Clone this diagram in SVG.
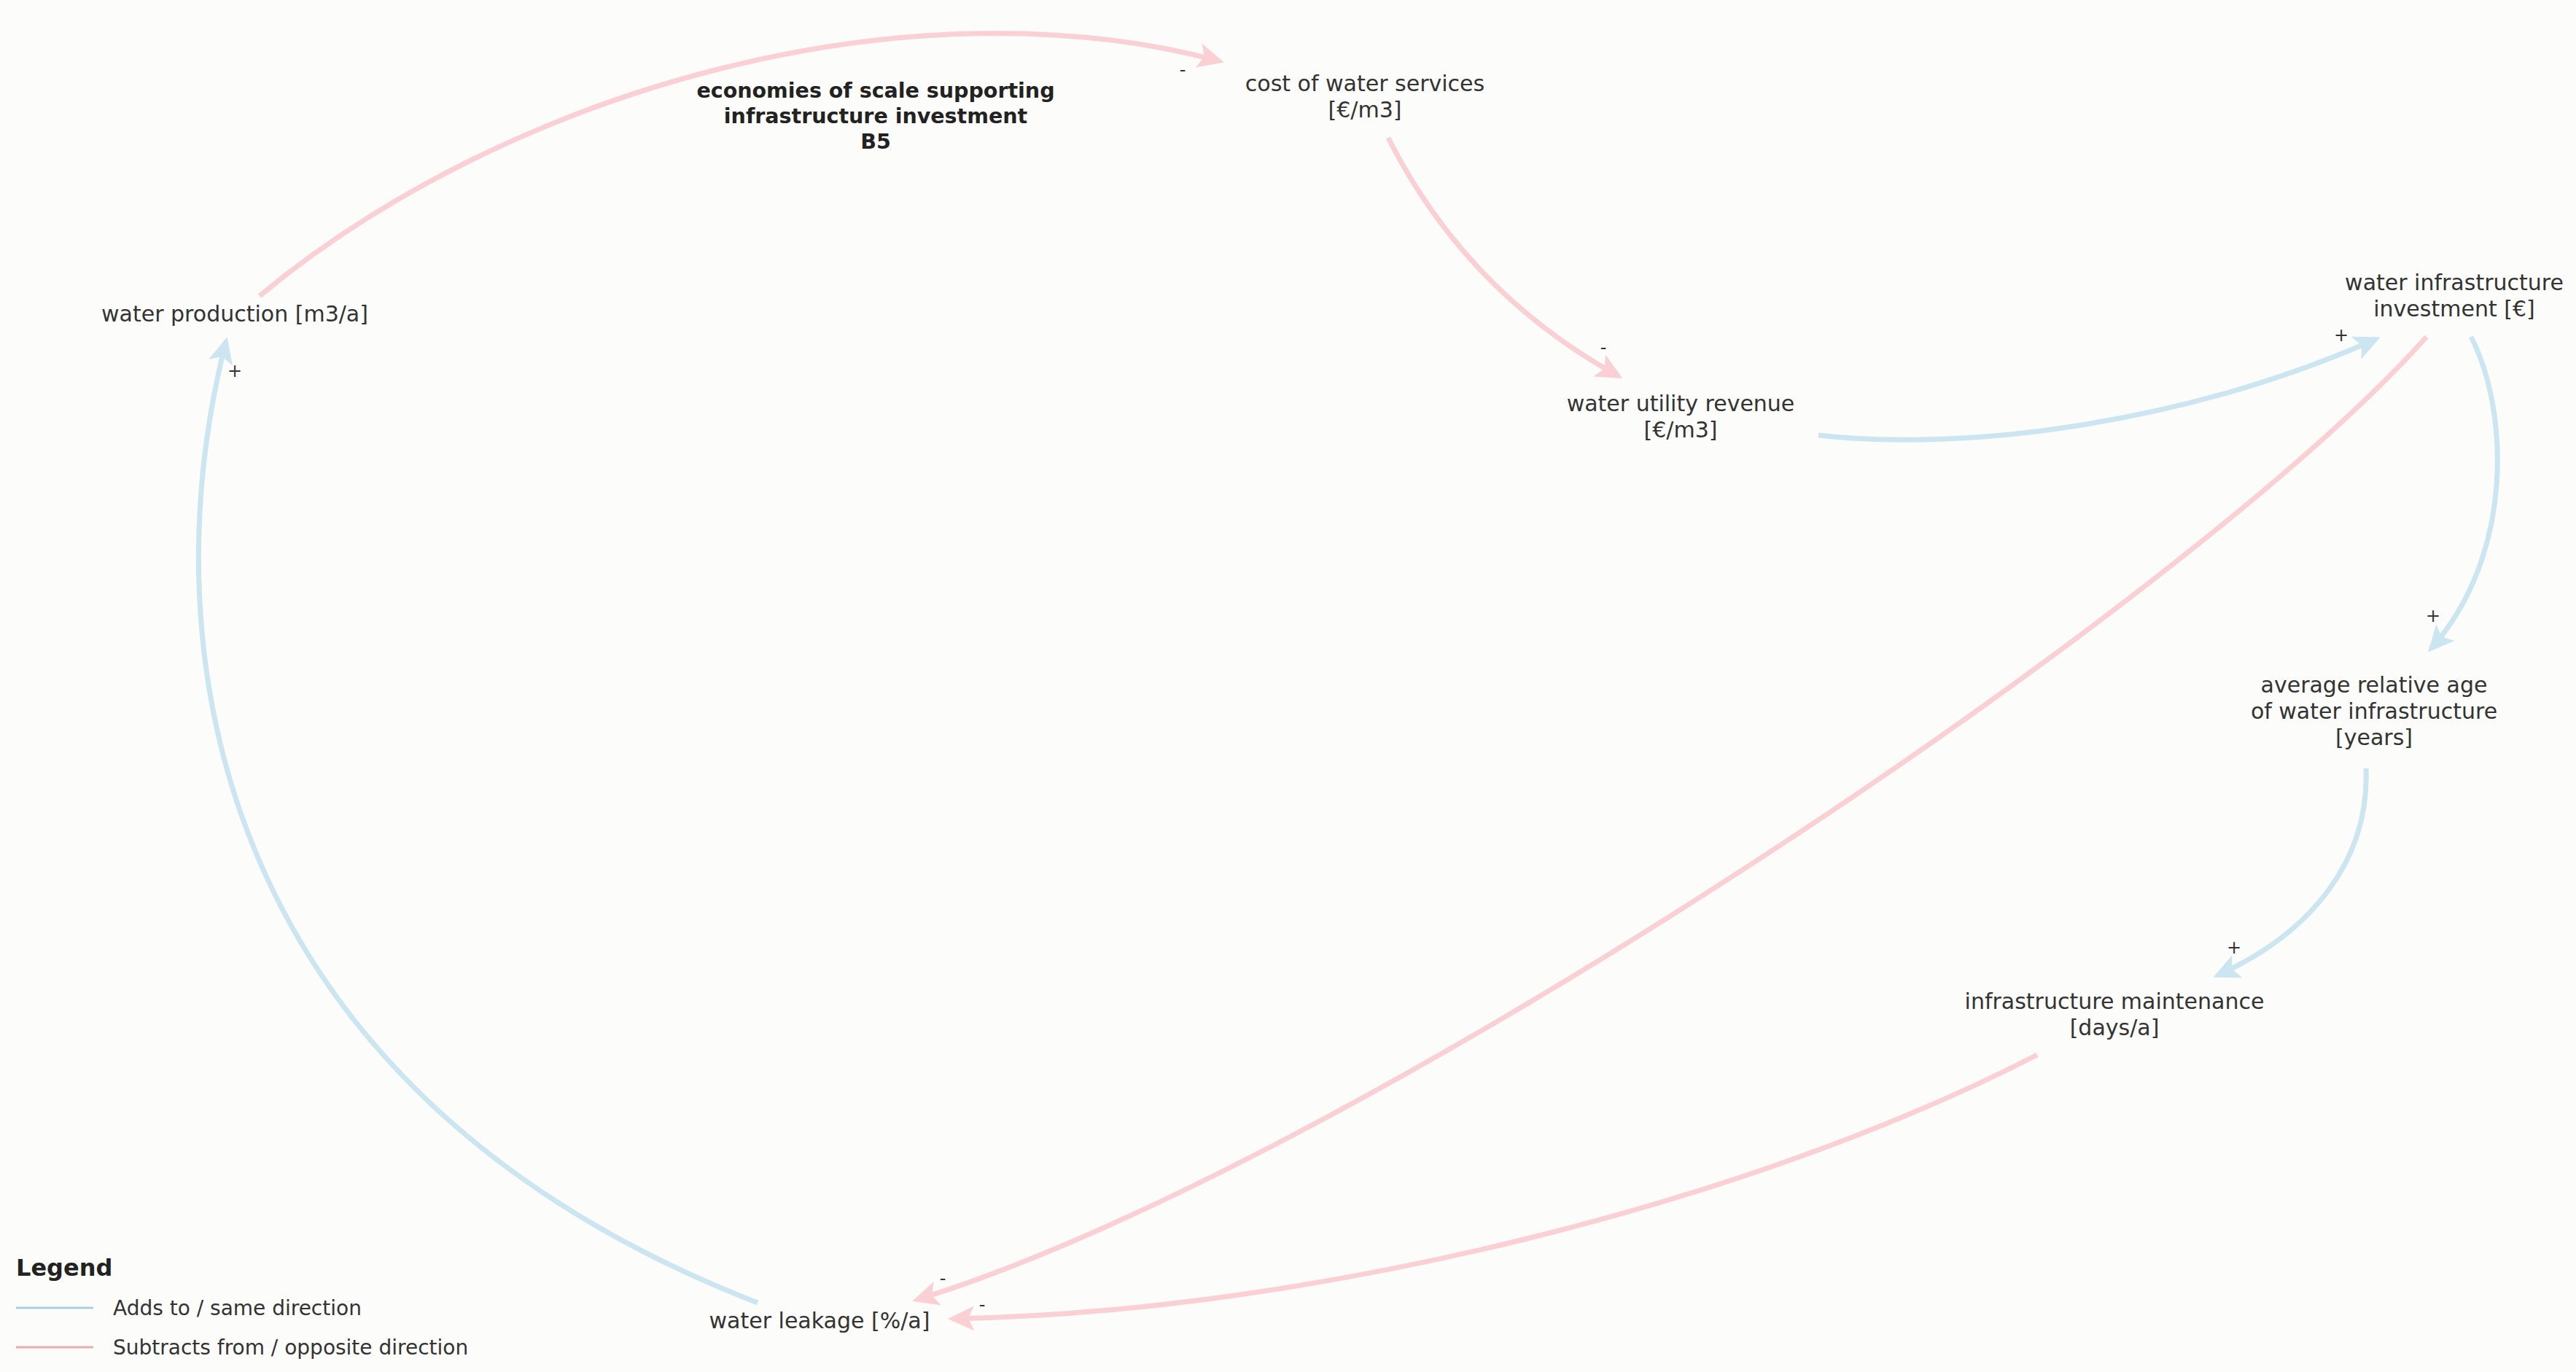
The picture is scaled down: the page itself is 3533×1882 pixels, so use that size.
<svg xmlns="http://www.w3.org/2000/svg" width="3533" height="1882" viewBox="0 0 3533 1882">
<style>
.t{font-family:"DejaVu Sans","Liberation Sans",sans-serif;font-size:30px;fill:#333;text-anchor:middle}
.b{font-family:"DejaVu Sans","Liberation Sans",sans-serif;font-size:28.5px;font-weight:bold;fill:#222;text-anchor:middle}
.s{font-family:"DejaVu Sans","Liberation Sans",sans-serif;font-size:24px;fill:#333;text-anchor:middle}
.lg{font-family:"DejaVu Sans","Liberation Sans",sans-serif;font-size:28px;fill:#333}
.pos{fill:none;stroke:#cbe5f1;stroke-width:7}
.neg{fill:none;stroke:#fad0d4;stroke-width:7}
</style>
<defs>
<marker id="ap" viewBox="-40 -20 48 40" refX="0" refY="0" markerWidth="48" markerHeight="40" markerUnits="userSpaceOnUse" orient="auto"><path d="M6,0 L-30,-17 L-22,0 L-30,17 Z" fill="#cbe5f1"/></marker>
<marker id="an" viewBox="-40 -20 48 40" refX="0" refY="0" markerWidth="48" markerHeight="40" markerUnits="userSpaceOnUse" orient="auto"><path d="M6,0 L-30,-17 L-22,0 L-30,17 Z" fill="#fad0d4"/></marker>
</defs>
<rect width="3533" height="1882" fill="#fcfcfa"/>
<g id="connectors">
<path class="neg" d="M356,406 C700,120 1250,-30 1673,84" marker-end="url(#an)"/>
<path class="neg" d="M1904,189 Q2010,400 2220,516" marker-end="url(#an)"/>
<path class="pos" d="M2494,597 C2700,620 3000,580 3259,465" marker-end="url(#ap)"/>
<path class="neg" d="M3328,462 C3000,830 1850,1600 1257,1783" marker-end="url(#an)"/>
<path class="pos" d="M3389,462 C3440,560 3450,760 3334,890" marker-end="url(#ap)"/>
<path class="pos" d="M3245,1054 C3250,1180 3170,1280 3041,1338" marker-end="url(#ap)"/>
<path class="neg" d="M2794,1447 C2400,1650 1800,1800 1306,1809" marker-end="url(#an)"/>
<path class="pos" d="M1039,1787 C300,1500 200,900 310,468" marker-end="url(#ap)"/>
<text class="s" x="1622" y="104">-</text>
<text class="s" x="2199" y="485">-</text>
<text class="s" x="3211" y="468">+</text>
<text class="s" x="3337" y="853">+</text>
<text class="s" x="3064" y="1308">+</text>
<text class="s" x="1293" y="1762">-</text>
<text class="s" x="1347" y="1798">-</text>
<text class="s" x="322" y="517">+</text>
</g>
<g id="loop-label"><text class="b" x="1201" y="134">economies of scale supporting</text><text class="b" x="1201" y="169">infrastructure investment</text><text class="b" x="1201" y="204">B5</text></g>
<g id="node-water-production"><text class="t" x="322" y="441">water production [m3/a]</text></g>
<g id="node-cost"><text class="t" x="1872" y="125">cost of water services</text><text class="t" x="1872" y="161">[€/m3]</text></g>
<g id="node-revenue"><text class="t" x="2305" y="564">water utility revenue</text><text class="t" x="2305" y="600">[€/m3]</text></g>
<g id="node-investment"><text class="t" x="3366" y="398">water infrastructure</text><text class="t" x="3366" y="434">investment [€]</text></g>
<g id="node-age"><text class="t" x="3256" y="950">average relative age</text><text class="t" x="3256" y="986">of water infrastructure</text><text class="t" x="3256" y="1022">[years]</text></g>
<g id="node-maintenance"><text class="t" x="2900" y="1384">infrastructure maintenance</text><text class="t" x="2900" y="1420">[days/a]</text></g>
<g id="node-leakage"><text class="t" x="1124" y="1822">water leakage [%/a]</text></g>
<g id="legend">
<text class="lg" x="22" y="1750" style="font-weight:bold;font-size:32px;fill:#222">Legend</text>
<line x1="22" y1="1794" x2="128" y2="1794" stroke="#a9cfe0" stroke-width="3"/>
<text class="lg" x="155" y="1804">Adds to / same direction</text>
<line x1="22" y1="1848" x2="128" y2="1848" stroke="#eaa9b1" stroke-width="3"/>
<text class="lg" x="155" y="1858">Subtracts from / opposite direction</text>
</g>
</svg>
